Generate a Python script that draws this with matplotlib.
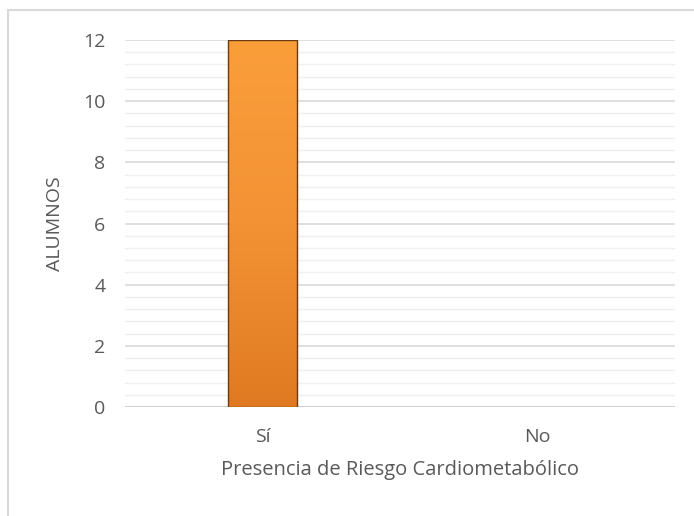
import numpy as np
import matplotlib.pyplot as plt
from matplotlib.patches import Rectangle
from matplotlib.ticker import MultipleLocator
from matplotlib.colors import LinearSegmentedColormap

# data
categorias = ["Sí", "No"]
alumnos = [12, 0]

plt.rcParams['font.family'] = ['Open Sans', 'DejaVu Sans']

fig = plt.figure(figsize=(6.94, 5.16), dpi=100)
ax = fig.add_axes([0.180, 0.2112, 0.7926, 0.7113])

# borde del gráfico
fig.patches.append(Rectangle((8/694, -0.1), 1.0, 1.0 - 10/516 + 0.1, transform=fig.transFigure,
                             fill=False, edgecolor='#d9d9d9', linewidth=1.5))

x = np.arange(len(categorias))
barras = ax.bar(x, alumnos, width=0.25, color='#f0892a', linewidth=0, zorder=3)

# degradado naranja dentro de la barra
grad = np.linspace(0, 1, 256).reshape(-1, 1)
cmap = LinearSegmentedColormap.from_list('nar', ['#e07a22', '#f39235', '#fa9e3a'])
for b in barras:
    if b.get_height() <= 0:
        continue
    im = ax.imshow(grad, cmap=cmap, aspect='auto', origin='lower',
                   extent=[b.get_x(), b.get_x() + b.get_width(), 0, b.get_height()], zorder=3.5)
    im.set_clip_path(b)
    ax.add_patch(Rectangle((b.get_x(), 0), b.get_width(), b.get_height(), fill=False,
                           edgecolor='#6b3a10', linewidth=1.0, zorder=4))

ax.set_xlim(-0.5, 1.5)
ax.set_ylim(0, 12)
ax.yaxis.set_major_locator(MultipleLocator(2))
ax.yaxis.set_minor_locator(MultipleLocator(0.4))
ax.grid(which='major', axis='y', color='#d9d9d9', linewidth=1.2, zorder=0)
ax.grid(which='minor', axis='y', color='#efefef', linewidth=1.0, zorder=0)

ax.set_xticks(x)
ax.set_xticklabels(categorias)
ax.tick_params(axis='both', which='both', length=0, labelsize=14, labelcolor='#595959')
ax.tick_params(axis='y', pad=14)
ax.tick_params(axis='x', pad=15)

for s in ax.spines.values():
    s.set_visible(False)
ax.axhline(0, color='#d0d0d0', linewidth=1.5, zorder=2)

ax.set_xlabel("Presencia de Riesgo Cardiometabólico", fontsize=14.5, color='#595959', labelpad=10)
ax.set_ylabel("ALUMNOS", fontsize=14, color='#595959', labelpad=14)

fig.savefig("out.png", dpi=100)
